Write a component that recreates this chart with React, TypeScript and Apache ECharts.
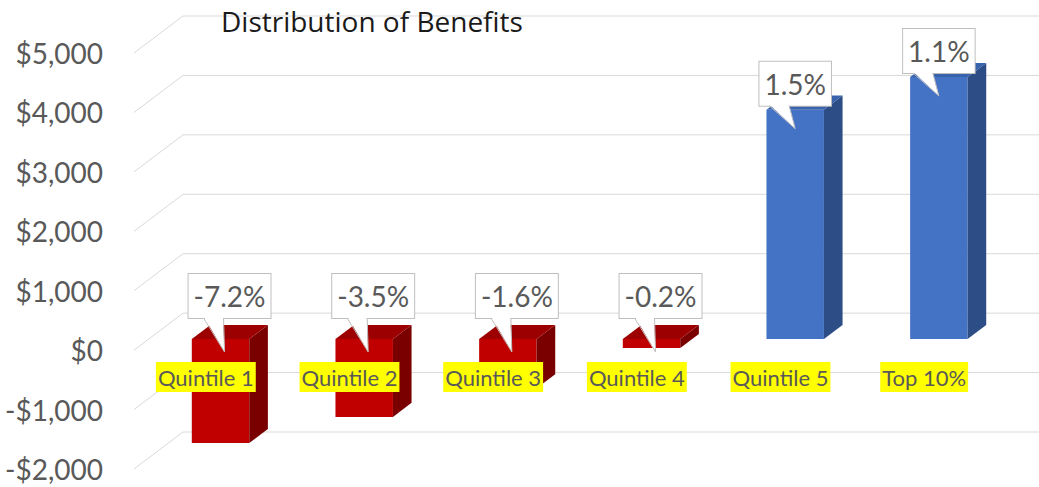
import React, { useEffect, useRef } from "react";
import * as echarts from "echarts";

// ---- data ----
const categories = ["Quintile 1", "Quintile 2", "Quintile 3", "Quintile 4", "Quintile 5", "Top 10%"];
const benefits = [-1750, -1310, -830, -150, 3860, 4410];
const shareLabels = ["-7.2%", "-3.5%", "-1.6%", "-0.2%", "1.5%", "1.1%"];
const yTicks = [-2000, -1000, 0, 1000, 2000, 3000, 4000, 5000];
const titleText = "Distribution of Benefits";

// ---- 3D look ----
const DX = 49; // depth offset of back wall (px)
const DY = -37;
const F0 = 0.3; // bar front depth fraction
const F1 = 0.68; // bar back depth fraction
const RED = { front: "#C00000", side: "#7A0000", top: "#9C0000" };
const BLUE = { front: "#4472C4", side: "#2C4D86", top: "#3A63AE" };
const FONT = "Lato, 'Open Sans', sans-serif";

function fmtMoney(v: number) {
  const s = "$" + Math.abs(v).toLocaleString("en-US");
  return v < 0 ? "-" + s : s;
}

export default function App() {
  const ref = useRef<HTMLDivElement>(null);
  useEffect(() => {
    if (!ref.current) return;
    const chart = echarts.init(ref.current, null, { renderer: "svg" });

    const wallRender = (params: any, api: any) => {
      const cs = params.coordSys;
      const y = api.coord([0, api.value(1)])[1];
      return {
        type: "polyline",
        shape: {
          points: [
            [cs.x, y],
            [cs.x + DX, y + DY],
            [cs.x + cs.width + DX + 10, y + DY],
          ],
        },
        style: { stroke: "#D9D9D9", lineWidth: 1, fill: null },
        silent: true,
      };
    };

    const barRender = (params: any, api: any) => {
      const i = api.value(0);
      const v = api.value(1);
      const base = api.coord([i, 0]);
      const top = api.coord([i, v]);
      const band = api.size([1, 0])[0];
      const w = band * 0.4;
      const cx = base[0] + F0 * DX;
      const yZero = base[1] + F0 * DY;
      const yVal = top[1] + F0 * DY;
      const yT = Math.min(yZero, yVal);
      const yB = Math.max(yZero, yVal);
      const x0 = cx - w / 2;
      const x1 = cx + w / 2;
      const sdx = (F1 - F0) * DX;
      const sdy = (F1 - F0) * DY;
      const neg = v < 0;
      const c = neg ? RED : BLUE;

      const boxCx = cx + (neg ? 9 : 0);
      const boxBottom = yT - (neg ? 21 : 4);
      const tipX = cx + (neg ? 4 : 0);
      const tipY = yT + (neg ? 13 : 19);
      const bl = boxCx - 26;
      const br = boxCx - 6;

      return {
        type: "group",
        children: [
          {
            type: "rect",
            shape: { x: x0, y: yT, width: w, height: Math.max(yB - yT, 0.5) },
            style: { fill: c.front },
          },
          {
            type: "polygon",
            shape: {
              points: [
                [x1, yT],
                [x1 + sdx, yT + sdy],
                [x1 + sdx, yB + sdy],
                [x1, yB],
              ],
            },
            style: { fill: c.side },
          },
          {
            type: "polygon",
            shape: {
              points: [
                [x0, yT],
                [x0 + sdx, yT + sdy],
                [x1 + sdx, yT + sdy],
                [x1, yT],
              ],
            },
            style: { fill: c.top },
          },
          {
            type: "text",
            x: boxCx,
            y: boxBottom,
            style: {
              text: shareLabels[params.dataIndex],
              font: `28px ${FONT}`,
              fill: "#595959",
              align: "center",
              verticalAlign: "bottom",
              lineHeight: 34,
              backgroundColor: "#FFFFFF",
              borderColor: "#BFBFBF",
              borderWidth: 1,
              padding: [5, 5, 5, 5],
            },
          },
          {
            type: "polygon",
            shape: {
              points: [
                [bl + 0.5, boxBottom - 1],
                [br - 0.5, boxBottom - 1],
                [tipX, tipY],
              ],
            },
            style: { fill: "#FFFFFF" },
          },
          {
            type: "polyline",
            shape: {
              points: [
                [bl, boxBottom],
                [tipX, tipY],
                [br, boxBottom],
              ],
            },
            style: { stroke: "#BFBFBF", lineWidth: 1, fill: null },
          },
        ],
      };
    };

    chart.setOption({
      animation: false,
      backgroundColor: "#FFFFFF",
      title: {
        text: titleText,
        left: 216,
        top: 2,
        textStyle: { fontFamily: "'Open Sans', sans-serif", fontSize: 28, fontWeight: "normal", color: "#1A1A1A" },
      },
      grid: {
        left: 134,
        right: 43,
        top: 53,
        bottom: 18,
        containLabel: false,
        outerBoundsMode: "none",
      },
      xAxis: {
        type: "category",
        data: categories,
        z: 10,
        axisLine: { show: false },
        axisTick: { show: false },
        splitLine: { show: false },
        axisLabel: {
          interval: 0,
          margin: -107,
          fontFamily: FONT,
          fontSize: 22,
          color: "#595959",
          backgroundColor: "#FFFF00",
          padding: [4, 2, 3, 2],
          lineHeight: 23,
        },
      },
      yAxis: {
        type: "value",
        min: -2000,
        max: 5000,
        interval: 1000,
        axisLine: { show: false },
        axisTick: { show: false },
        splitLine: { show: false },
        axisLabel: {
          margin: 31,
          fontFamily: FONT,
          fontSize: 28,
          color: "#595959",
          formatter: (v: number) => fmtMoney(v),
        },
      },
      series: [
        {
          type: "custom",
          name: "wall",
          z: 1,
          silent: true,
          renderItem: wallRender,
          data: yTicks.map((t) => [0, t]),
        },
        {
          type: "custom",
          name: "benefits",
          z: 3,
          renderItem: barRender,
          data: benefits.map((v, i) => [i, v]),
        },
      ],
    });
    return () => chart.dispose();
  }, []);
  return (
    <div
      ref={ref}
      style={{ position: "absolute", left: 0, top: 0, width: 1039, height: 487 }}
    />
  );
}
